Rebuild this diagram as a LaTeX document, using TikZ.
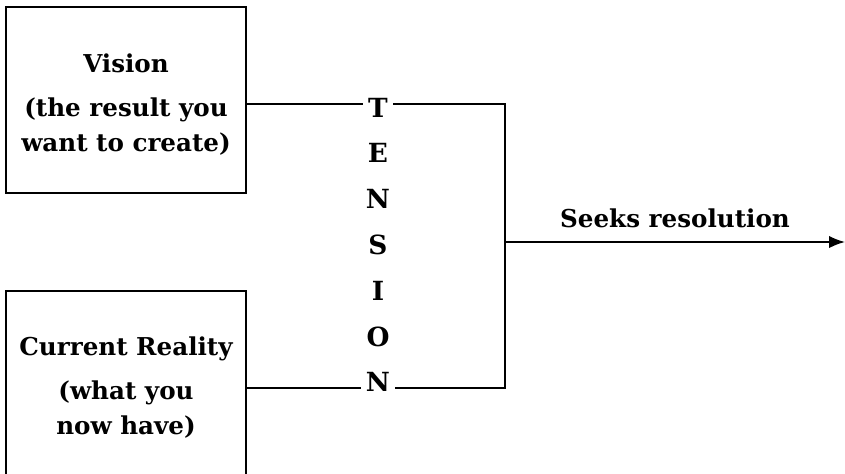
\documentclass[tikz,border=0pt]{standalone}
\usepackage{fontspec}
\setmainfont{DejaVu Serif}
\usetikzlibrary{arrows.meta}

\tikzset{
  every node/.style={font=\fontsize{14}{20}\selectfont\bfseries},
  box/.style={draw,thick,minimum width=4.8cm,align=center,inner sep=0pt},
  letter/.style={inner sep=2.5pt,font=\fontsize{15}{20}\selectfont\bfseries}
}

\begin{document}
\begin{tikzpicture}[line width=1pt]

\useasboundingbox (0,0) rectangle (16.9,9.46);
\clip (0,0) rectangle (16.9,9.46);

% the two boxes
\node (vision) at (2.52,7.46) [box,minimum height=3.72cm] {\rule{0pt}{16pt}Vision\\[5pt](the result you\\want to create)};
\node (reality) at (2.52,1.70) [box,minimum height=3.88cm] {Current Reality\\[5pt](what you\\now have)};

% tension letters
\foreach \ch [count=\i from 0] in {T,E,N,S,I,O,N}
  \node (t\i) at (7.56,7.31-0.916*\i) [letter] {\ch};

% bracket corners
\coordinate (ctop) at (10.1,7.38);
\coordinate (cbot) at (10.1,1.70);
\coordinate (cmid) at (10.1,4.62);
\coordinate (tip) at (16.9,4.62);

% connecting lines
\draw (vision.east |- ctop) -- (t0.west |- ctop);
\draw (t0.east |- ctop) -- (ctop) -- (cbot) -- (t6.east |- cbot);
\draw (reality.east |- cbot) -- (t6.west |- cbot);

% resolution arrow
\draw [-{Latex[length=9pt,width=7pt]}] (cmid) -- (tip) node (seek) [midway,above=4pt] {Seeks resolution};

\end{tikzpicture}
\end{document}
